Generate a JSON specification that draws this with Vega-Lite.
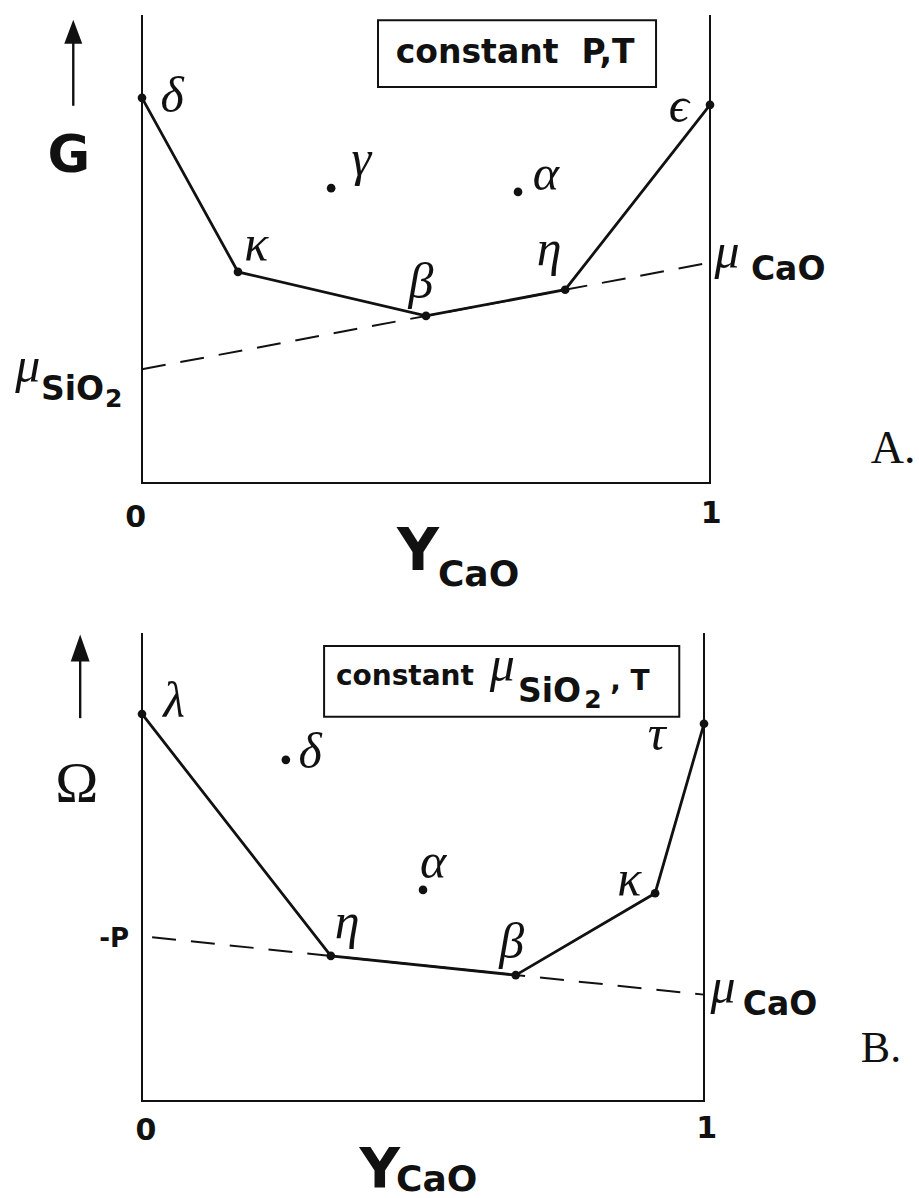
{
  "$schema": "https://vega.github.io/schema/vega-lite/v6.json",
  "background": "white",
  "autosize": {"type": "pad"},
  "padding": {"left": 15, "top": 11, "right": 5, "bottom": 0},
  "config": {"view": {"stroke": null}, "font": "DejaVu Sans"},
  "bounds": "flush",
  "spacing": 150,
  "resolve": {"scale": {"x": "independent", "y": "independent"}},
  "vconcat": [
    {
      "width": 568,
      "height": 468,
      "encoding": {
        "x": {"field": "x", "type": "quantitative", "scale": {"domain": [0, 1], "nice": false, "zero": false}, "axis": null},
        "y": {"field": "y", "type": "quantitative", "scale": {"domain": [0, 100], "nice": false, "zero": false}, "axis": null}
      },
      "layer": [
        {
          "data": {"values": [
            {"x": 0, "y": 100, "k": 1}, {"x": 0, "y": 0, "k": 2},
            {"x": 1, "y": 0, "k": 3}, {"x": 1, "y": 100, "k": 4}
          ]},
          "mark": {"type": "line", "color": "#111", "strokeWidth": 2, "strokeJoin": "miter"},
          "encoding": {"order": {"field": "k"}}
        },
        {
          "data": {"values": [{"x": 0, "y": 24.3}, {"x": 1, "y": 47.1}]},
          "mark": {"type": "line", "color": "#111", "strokeWidth": 2, "strokeDash": [24, 15]}
        },
        {
          "data": {"name": "phasesA"},
          "transform": [{"filter": "datum.hull"}],
          "mark": {"type": "line", "color": "#111", "strokeWidth": 2.8}
        },
        {
          "data": {"name": "phasesA"},
          "mark": {"type": "point", "filled": true, "color": "#111", "size": 75, "opacity": 1}
        },
        {
          "data": {"values": [{"x": -0.121, "y": 80.6}, {"x": -0.121, "y": 95.1}]},
          "mark": {"type": "line", "color": "#111", "strokeWidth": 2.4}
        },
        {
          "data": {"values": [{"x": -0.121, "y": 96.4}]},
          "mark": {"type": "point", "filled": true, "color": "#111", "opacity": 1, "size": 576, "shape": "M0,-1L0.75,1L-0.75,1Z"}
        },
        {
          "data": {"values": [{"x": 0.4155, "x2": 0.905, "y": 84.6, "y2": 98.9}]},
          "mark": {"type": "rect", "fill": null, "fillOpacity": 0, "stroke": "#111", "strokeWidth": 2},
          "encoding": {"x2": {"field": "x2"}, "y2": {"field": "y2"}}
        },
        {
          "data": {"values": [
            {"t": "δ", "x": 0.053, "y": 79.3},
            {"t": "γ", "x": 0.386, "y": 65.8},
            {"t": "κ", "x": 0.201, "y": 47.6},
            {"t": "β", "x": 0.491, "y": 39.5},
            {"t": "α", "x": 0.711, "y": 62.6},
            {"t": "η", "x": 0.717, "y": 46.6},
            {"t": "ϵ", "x": 0.945, "y": 77.1},
            {"t": "μ", "x": 1.03, "y": 45.9},
            {"t": "μ", "x": -0.201, "y": 21.6}
          ]},
          "mark": {"type": "text", "font": "Liberation Serif", "fontStyle": "italic", "fontSize": 50, "align": "center", "baseline": "alphabetic", "color": "#111"},
          "encoding": {"text": {"field": "t"}}
        },
        {
          "data": {"values": [
            {"t": "CaO", "x": 1.072, "y": 43.4},
            {"t": "SiO", "x": -0.178, "y": 17.7}
          ]},
          "mark": {"type": "text", "fontWeight": "bold", "fontSize": 33, "align": "left", "baseline": "alphabetic", "color": "#111"},
          "encoding": {"text": {"field": "t"}}
        },
        {
          "data": {"values": [{"t": "2", "x": -0.065, "y": 16.2}]},
          "mark": {"type": "text", "fontWeight": "bold", "fontSize": 25, "align": "left", "baseline": "alphabetic", "color": "#111"},
          "encoding": {"text": {"field": "t"}}
        },
        {
          "data": {"values": [{"t": "constant\u00a0\u00a0P,T", "x": 0.657, "y": 89.7}]},
          "mark": {"type": "text", "fontWeight": "bold", "fontSize": 33, "align": "center", "baseline": "alphabetic", "color": "#111"},
          "encoding": {"text": {"field": "t"}}
        },
        {
          "data": {"values": [{"t": "0", "x": -0.011, "y": -9.4}, {"t": "1", "x": 1.002, "y": -8.5}]},
          "mark": {"type": "text", "fontWeight": "bold", "fontSize": 30, "align": "center", "baseline": "alphabetic", "color": "#111"},
          "encoding": {"text": {"field": "t"}}
        },
        {
          "data": {"values": [{"t": "Y", "x": 0.486, "y": -18.6}]},
          "mark": {"type": "text", "fontWeight": "bold", "fontSize": 58, "align": "center", "baseline": "alphabetic", "color": "#111"},
          "encoding": {"text": {"field": "t"}}
        },
        {
          "data": {"values": [{"t": "CaO", "x": 0.521, "y": -22.0}]},
          "mark": {"type": "text", "fontWeight": "bold", "fontSize": 36, "align": "left", "baseline": "alphabetic", "color": "#111"},
          "encoding": {"text": {"field": "t"}}
        },
        {
          "data": {"values": [{"t": "G", "x": -0.129, "y": 66.5}]},
          "mark": {"type": "text", "fontWeight": "bold", "fontSize": 52, "align": "center", "baseline": "alphabetic", "color": "#111"},
          "encoding": {"text": {"field": "t"}}
        },
        {
          "data": {"values": [{"t": "A.", "x": 1.283, "y": 4.3}]},
          "mark": {"type": "text", "font": "Liberation Serif", "fontSize": 46, "align": "left", "baseline": "alphabetic", "color": "#111"},
          "encoding": {"text": {"field": "t"}}
        }
      ]
    },
    {
      "width": 562,
      "height": 468,
      "encoding": {
        "x": {"field": "x", "type": "quantitative", "scale": {"domain": [0, 1], "nice": false, "zero": false}, "axis": null},
        "y": {"field": "y", "type": "quantitative", "scale": {"domain": [0, 100], "nice": false, "zero": false}, "axis": null}
      },
      "layer": [
        {
          "data": {"values": [
            {"x": 0, "y": 100, "k": 1}, {"x": 0, "y": 0, "k": 2},
            {"x": 1, "y": 0, "k": 3}, {"x": 1, "y": 100, "k": 4}
          ]},
          "mark": {"type": "line", "color": "#111", "strokeWidth": 2, "strokeJoin": "miter"},
          "encoding": {"order": {"field": "k"}}
        },
        {
          "data": {"values": [{"x": 0.018, "y": 34.97}, {"x": 1, "y": 22.73}]},
          "mark": {"type": "line", "color": "#111", "strokeWidth": 2, "strokeDash": [24, 15]}
        },
        {
          "data": {"name": "phasesB"},
          "transform": [{"filter": "datum.hull"}],
          "mark": {"type": "line", "color": "#111", "strokeWidth": 2.8}
        },
        {
          "data": {"name": "phasesB"},
          "mark": {"type": "point", "filled": true, "color": "#111", "size": 75, "opacity": 1}
        },
        {
          "data": {"values": [{"x": -0.11, "y": 81.8}, {"x": -0.11, "y": 95.3}]},
          "mark": {"type": "line", "color": "#111", "strokeWidth": 2.4}
        },
        {
          "data": {"values": [{"x": -0.11, "y": 96.8}]},
          "mark": {"type": "point", "filled": true, "color": "#111", "opacity": 1, "size": 729, "shape": "M0,-1L0.7,1L-0.7,1Z"}
        },
        {
          "data": {"values": [{"x": 0.324, "x2": 0.956, "y": 82.1, "y2": 97.2}]},
          "mark": {"type": "rect", "fill": null, "fillOpacity": 0, "stroke": "#111", "strokeWidth": 2},
          "encoding": {"x2": {"field": "x2"}, "y2": {"field": "y2"}}
        },
        {
          "data": {"values": [
            {"t": "λ", "x": 0.057, "y": 82.1},
            {"t": "δ", "x": 0.299, "y": 71.2},
            {"t": "α", "x": 0.518, "y": 47.6},
            {"t": "η", "x": 0.365, "y": 34.8},
            {"t": "β", "x": 0.658, "y": 30.6},
            {"t": "κ", "x": 0.867, "y": 44.0},
            {"t": "τ", "x": 0.916, "y": 75.0},
            {"t": "μ", "x": 1.034, "y": 20.9},
            {"t": "μ", "x": 0.641, "y": 89.7}
          ]},
          "mark": {"type": "text", "font": "Liberation Serif", "fontStyle": "italic", "fontSize": 50, "align": "center", "baseline": "alphabetic", "color": "#111"},
          "encoding": {"text": {"field": "t"}}
        },
        {
          "data": {"values": [
            {"t": "CaO", "x": 1.069, "y": 18.4},
            {"t": "SiO", "x": 0.669, "y": 85.3}
          ]},
          "mark": {"type": "text", "fontWeight": "bold", "fontSize": 33, "align": "left", "baseline": "alphabetic", "color": "#111"},
          "encoding": {"text": {"field": "t"}}
        },
        {
          "data": {"values": [{"t": "2", "x": 0.787, "y": 84.0}]},
          "mark": {"type": "text", "fontWeight": "bold", "fontSize": 25, "align": "left", "baseline": "alphabetic", "color": "#111"},
          "encoding": {"text": {"field": "t"}}
        },
        {
          "data": {"values": [{"t": "constant", "x": 0.345, "y": 88.9}, {"t": ", T", "x": 0.833, "y": 87.8}]},
          "mark": {"type": "text", "fontWeight": "bold", "fontSize": 28, "align": "left", "baseline": "alphabetic", "color": "#111"},
          "encoding": {"text": {"field": "t"}}
        },
        {
          "data": {"values": [{"t": "-P", "x": -0.023, "y": 32.9}]},
          "mark": {"type": "text", "fontWeight": "bold", "fontSize": 26, "align": "right", "baseline": "alphabetic", "color": "#111"},
          "encoding": {"text": {"field": "t"}}
        },
        {
          "data": {"values": [{"t": "0", "x": 0.007, "y": -8.3}, {"t": "1", "x": 1.005, "y": -7.9}]},
          "mark": {"type": "text", "fontWeight": "bold", "fontSize": 30, "align": "center", "baseline": "alphabetic", "color": "#111"},
          "encoding": {"text": {"field": "t"}}
        },
        {
          "data": {"values": [{"t": "Y", "x": 0.423, "y": -18.4}]},
          "mark": {"type": "text", "fontWeight": "bold", "fontSize": 56, "align": "center", "baseline": "alphabetic", "color": "#111"},
          "encoding": {"text": {"field": "t"}}
        },
        {
          "data": {"values": [{"t": "CaO", "x": 0.452, "y": -19.2}]},
          "mark": {"type": "text", "fontWeight": "bold", "fontSize": 36, "align": "left", "baseline": "alphabetic", "color": "#111"},
          "encoding": {"text": {"field": "t"}}
        },
        {
          "data": {"values": [{"t": "Ω", "x": -0.116, "y": 63.9}]},
          "mark": {"type": "text", "font": "Liberation Serif", "fontSize": 58, "align": "center", "baseline": "alphabetic", "color": "#111"},
          "encoding": {"text": {"field": "t"}}
        },
        {
          "data": {"values": [{"t": "B.", "x": 1.279, "y": 8.3}]},
          "mark": {"type": "text", "font": "Liberation Serif", "fontSize": 44, "align": "left", "baseline": "alphabetic", "color": "#111"},
          "encoding": {"text": {"field": "t"}}
        }
      ]
    }
  ],
  "datasets": {
    "phasesA": [
      {"phase": "δ", "x": 0, "y": 82.3, "hull": true},
      {"phase": "κ", "x": 0.169, "y": 45.1, "hull": true},
      {"phase": "β", "x": 0.5, "y": 35.7, "hull": true},
      {"phase": "η", "x": 0.745, "y": 41.3, "hull": true},
      {"phase": "ϵ", "x": 1, "y": 80.8, "hull": true},
      {"phase": "γ", "x": 0.333, "y": 63.0, "hull": false},
      {"phase": "α", "x": 0.662, "y": 62.2, "hull": false}
    ],
    "phasesB": [
      {"phase": "λ", "x": 0, "y": 82.7, "hull": true},
      {"phase": "η", "x": 0.336, "y": 31.0, "hull": true},
      {"phase": "β", "x": 0.665, "y": 26.9, "hull": true},
      {"phase": "κ", "x": 0.913, "y": 44.4, "hull": true},
      {"phase": "τ", "x": 1, "y": 80.6, "hull": true},
      {"phase": "δ", "x": 0.256, "y": 72.9, "hull": false},
      {"phase": "α", "x": 0.5, "y": 45.1, "hull": false}
    ]
  }
}
